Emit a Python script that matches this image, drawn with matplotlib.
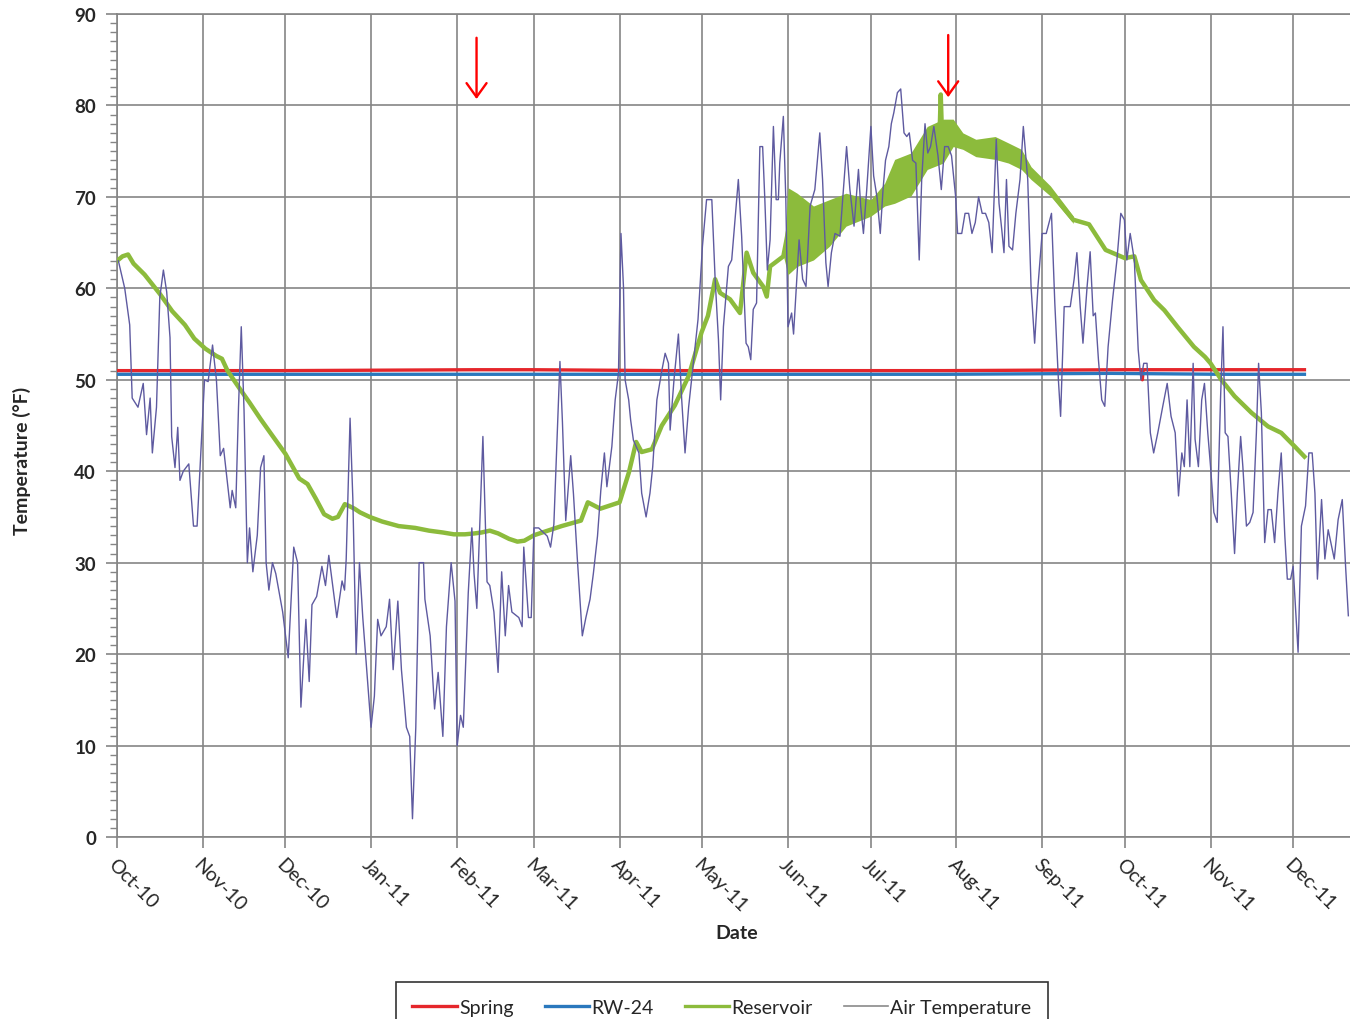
import numpy as np
import matplotlib.pyplot as plt
import matplotlib.dates as mdates
from matplotlib.lines import Line2D
from matplotlib.ticker import MultipleLocator

plt.rcParams['font.family'] = ['Lato', 'DejaVu Sans']

# days are counted from 1 Oct 2010
START = np.datetime64('2010-10-01T00:00')

# ── spring / RW-24 (nearly constant) ─────────────────────────────────────────
spring_day = [0, 60, 130, 150, 200, 300, 365, 371.0, 371.3, 371.6, 430]
spring_temp = [51.0, 51.0, 51.1, 51.1, 51.0, 51.0, 51.1, 51.1, 50.0, 51.1, 51.1]

rw24_day = [0, 100, 200, 300, 360, 400, 430]
rw24_temp = [50.6, 50.6, 50.6, 50.6, 50.7, 50.6, 50.6]

# ── reservoir ────────────────────────────────────────────────────────────────
res_day = [0, 2, 4, 6, 10, 15.5, 20, 24.6, 28, 32, 36, 38, 40, 44.5, 48, 52,
           56, 61, 66, 69, 72, 75, 78, 80, 82.5, 84, 86, 88, 91.5, 96, 102,
           108, 113, 118, 122, 126, 129.5, 132, 135, 138, 142, 145, 147.5, 151,
           156, 161, 168, 170.5, 175, 182, 185.4, 188, 190, 193.7, 197.3, 202,
           207, 211.7, 214, 216.6, 218.4, 222, 225.6, 228, 230.4, 234, 235.3,
           236.5, 241.3, 243, 246.3, 252.2, 258, 264, 273, 278, 281.6, 287.5,
           293.4, 297.8, 298.3, 298.8, 302.8, 306.3, 311, 318, 322.8, 327.5,
           331, 338, 346.3, 352, 358, 365, 368.4, 370.8, 375.6, 379.3, 384,
           390, 394, 396, 399.9, 404.7, 410.8, 416.8, 421.6, 426.5, 430]
res_temp = [63.0, 63.5, 63.7, 62.7, 61.5, 59.4, 57.5, 56.0, 54.5, 53.4, 52.6,
            52.3, 51.0, 49.0, 47.5, 45.7, 44.0, 41.9, 39.2, 38.6, 37.0, 35.3,
            34.8, 35.0, 36.4, 36.2, 35.9, 35.5, 35.0, 34.5, 34.0, 33.8, 33.5,
            33.3, 33.1, 33.1, 33.2, 33.3, 33.5, 33.2, 32.6, 32.3, 32.4, 33.0,
            33.5, 34.0, 34.6, 36.6, 35.9, 36.6, 39.9, 43.2, 42.1, 42.4, 45.0,
            47.2, 50.4, 55.2, 57.0, 61.0, 59.5, 58.8, 57.3, 63.9, 61.7, 60.2,
            59.1, 62.4, 63.5, 66.2, 66.4, 66.0, 67.1, 68.6, 68.8, 70.2, 71.7,
            72.4, 75.3, 76.2, 81.2, 76.3, 77.0, 76.1, 75.3, 75.3, 74.8, 74.1,
            72.6, 70.6, 67.5, 67.0, 64.2, 63.3, 63.5, 60.9, 58.7, 57.6, 55.8,
            53.6, 52.5, 51.8, 50.0, 48.2, 46.4, 44.9, 44.2, 42.7, 41.6]

# summer hourly spread of the reservoir record
band_day = [241.5, 243, 246.3, 252.2, 258, 264, 273, 278, 281.6, 287.5, 293.4,
            299.2, 302.8, 306.3, 311, 318, 322.8, 327.5, 331, 338, 346.3]
band_lo = [63.3, 61.5, 62.4, 63.1, 64.6, 66.8, 67.9, 69.0, 69.3, 70.1, 73.0,
           73.7, 75.5, 75.2, 74.4, 74.1, 73.7, 73.0, 71.9, 70.1, 67.1]
band_hi = [63.7, 71.0, 70.4, 69.0, 69.7, 70.4, 69.7, 71.5, 74.1, 74.8, 77.7,
           78.5, 78.5, 77.0, 76.3, 76.6, 75.9, 75.2, 73.3, 71.2, 67.9]

# ── air temperature (daily) ──────────────────────────────────────────────────
air_day = [
    0.5, 2.8, 4.6, 5.5, 7.6, 9.5, 10.7, 12, 12.8, 14.3, 15.5, 16.8, 18, 19.2,
    19.8, 21, 22, 22.8, 24, 26, 27.7, 29, 30.7, 31.7, 33, 34.6, 36, 37.4, 38.6,
    41, 41.7, 43, 44, 45, 46, 47.2, 48, 49.2, 50.8, 52, 53.2, 54, 55, 56.3,
    57.5, 60, 62, 64, 65.4, 66.6, 68.4, 69.6, 70.6, 72.3, 74.2, 75.5, 76.7,
    79.6, 81.5, 82.4, 83, 84.4, 85.4, 86.6, 87.8,
    89, 92, 93.2, 94.4, 95.6, 97.5, 98.7, 100, 101.7, 103, 104.8, 106, 107,
    108.2, 109.4, 111, 111.5, 113.4, 115, 116.3, 118, 119.3, 121, 122.4, 123.2,
    124.4, 125.4, 127.2, 128.5, 129.3, 130.3, 132.5, 134, 135, 136.5, 138,
    139.3, 140.6, 141.8, 143, 145.5, 146.7, 147.3, 149, 150, 151, 152.7, 155.8,
    157, 158.2, 159.4, 160.4, 161.3, 162.5, 164.3, 165.3, 166.7, 168.5, 169.8,
    171.3, 172.5, 174, 175.2,
    176.5, 177.4, 179.2, 180.4, 181.6, 182.5, 183.4, 184, 185.3, 186, 187, 189,
    190, 191.6, 193, 194, 195.5, 197.3, 198.5, 199.7, 200.3, 201.7, 203.3,
    204.5, 205.7, 207, 208.7, 210.4, 212, 213.5, 215.4, 216.6, 217.8, 218.6,
    219.6, 221.4, 222.6, 223.8, 225, 226.2, 227.8, 228.6, 229.5, 230.4, 231.6,
    232.8, 233.8, 234.6, 235.5, 236.5, 237.7, 238.7, 239.5, 240, 241.3, 242.2,
    243, 244.3, 245, 246, 247, 248.3, 249.5, 251, 252.7, 254.5, 255.5, 256.7,
    257.5, 258.7, 260, 261.8,
    264.2, 265.4, 266.9, 268.5, 269.3, 270.3, 271.5, 273, 274, 275.2, 276.4,
    277.4, 278.3, 279.5, 280.4, 281.3, 282.6, 283.8, 285, 286, 286.9, 288.1,
    289.3, 290.5, 291.4, 292.6, 293.6, 294.6, 295.8, 297.3, 298.5, 299.7, 301,
    302.2, 303.7, 304.4, 305.9, 307.1, 308.4, 309.6, 310.8, 312, 313.3, 314.5,
    315.7, 316.9, 318.4, 319.4, 320.4, 321.2, 322.1, 323, 324.3, 325.5, 327,
    328.2, 329.8, 331, 332.3, 333.5, 335, 336.5, 338.4, 339.6, 340.9, 341.7,
    343, 345.2, 346.6, 347.6, 348.8, 349.8, 351.3,
    352.4, 353.5, 354.3, 355.4, 356.6, 357.7, 358.9, 360.5, 362.1, 363.5,
    364.8, 365.7, 366.9, 368.4, 369.8, 370.8, 371.8, 373, 374.2, 375.4, 376.9,
    378.7, 380.3, 381.7, 383.2, 384.4, 385.6, 386.5, 387.5, 388.5, 389.7,
    390.4, 391.6, 392.8, 393.8, 395, 396, 397.2, 398.4, 399.6, 400.5, 401.3,
    402.3, 403.5, 404.7, 405.7, 406.9, 407.7, 409, 410.2, 411.4, 412.6, 413.4,
    414.4, 415.6, 416.8, 418, 419.2, 420.4, 421.6, 422.9, 423.8, 425, 425.9,
    427.7, 428.9, 430.4, 431.6, 432.8, 433.8, 434.7, 436.2, 437.4, 438.6,
    440.8, 442.2, 443.7, 444.9, 445.9]
air_temp = [
    63, 60, 56, 48, 47, 49.6, 44, 48, 42, 47, 59, 62, 59.6, 54.6,
    43.8, 40.4, 44.8, 39, 40, 40.8, 34, 34, 44, 50, 49.8, 53.8, 50, 41.7, 42.5,
    36, 37.9, 36, 47, 55.8, 46.7, 30, 33.8, 29, 33, 40.4, 41.7, 30, 27, 30,
    28.8, 24.6, 19.6, 31.7, 30, 14.2, 23.8, 17, 25.4, 26.3, 29.6, 27.5, 30.8,
    24, 28, 27, 30.4, 45.8, 37, 20, 30,
    24, 12, 15.4, 23.8, 22, 23, 26, 18.3, 25.8, 18.3, 12, 11, 2,
    12, 30, 30, 26, 22, 14, 18, 11, 23, 30, 25.8, 10,
    13.3, 12, 26.7, 33.8, 28.8, 25, 43.8, 27.9, 27.5, 24.6, 18,
    29, 22, 27.5, 24.6, 24, 23, 31.7, 24, 24, 33.8, 33.8, 32.9,
    31.7, 34.2, 44, 52, 45.4, 34.6, 41.7, 37.5, 30.4, 22, 24,
    26, 28.8, 32.9, 37.9,
    42, 38.3, 42.7, 47.8, 50.7, 66, 60.2, 50, 47.8, 45.6, 43.4, 42,
    37.6, 35, 37.6, 40.5, 47.8, 51, 52.9, 51.8, 44.5, 50, 55,
    47.8, 42, 47, 51.8, 56.6, 64.6, 69.7, 69.7, 61, 54.4, 47.8,
    55.8, 62.4, 63.1, 67.5, 71.9, 65.7, 54, 53.6, 52.2, 57.7, 58.4,
    75.5, 75.5, 69.7, 62, 65.3, 77.7, 69.7, 69.7, 73.7, 78.8, 69.7,
    55.8, 57.3, 55, 60.2, 65.3, 61, 60.2, 69, 70.8, 77, 71.9, 62.8,
    60.2, 63.9, 66, 65.7,
    75.5, 70.8, 66.8, 73, 69, 66, 70.8, 77.7, 72.3, 70, 66,
    70.8, 74, 75.5, 78, 79.2, 81.4, 81.8, 77, 76.6, 77, 74,
    73.7, 63.1, 71.9, 78, 74.8, 75.5, 77.7, 74.5, 70.8, 75.5, 75.5,
    74.5, 70, 66, 66, 68.2, 68.2, 66, 67.2, 70, 68.2, 68.2,
    67.2, 63.9, 76.3, 69.3, 66.4, 63.9, 71.9, 64.6, 64.2, 68.2, 71.9,
    77.7, 71.9, 60.2, 54, 60.2, 66, 66, 68.2, 58.4, 50, 46,
    58, 58, 61, 63.9, 58, 54, 60.2,
    64, 57, 57.3, 52.2, 47.8, 47.1, 53.6, 58.7, 63.1, 68.2,
    67.5, 63.1, 66, 63.1, 53.3, 50, 51.8, 51.8, 44.2, 42, 44.2,
    47.1, 49.6, 46, 44.2, 37.3, 42, 40.5, 47.8, 40.5, 51.8,
    43.5, 40.5, 47.8, 49.6, 44.2, 40.5, 35.5, 34.4, 47.8, 55.8, 44.2,
    43.8, 37.6, 31, 37.6, 43.8, 40.5, 34, 34.4, 35.5, 44.2, 51.8,
    46.4, 32.2, 35.8, 35.8, 32.2, 37.6, 42, 32.9, 28.2, 28.2, 29.6,
    20.2, 34, 36.2, 42, 42, 37.6, 28.2, 36.9, 30.4, 33.6,
    30.4, 34.7, 36.9, 29.6, 24.2]

# red arrow markers: (day, top, tip)
arrow_day = [130.2, 301.0]
arrow_top = [87.4, 87.7]
arrow_tip = [80.7, 80.9]

RED = '#e5262b'
BLUE = '#2a78bd'
GREEN = '#8cbb3c'
AIR = '#5e5aa0'
GRID = '#858585'
TEXT = '#262626'


def to_dates(days):
    return START + np.round(np.asarray(days, float) * 1440).astype('timedelta64[m]')


fig = plt.figure(figsize=(13.5, 10.2), dpi=100)
ax = fig.add_axes([117 / 1350, 1 - 838 / 1020, 1 - 117 / 1350, 823 / 1020])

ax.plot(to_dates(spring_day), spring_temp, color=RED, lw=2.4, zorder=3)
ax.plot(to_dates(rw24_day), rw24_temp, color=BLUE, lw=2.4, zorder=3)
ax.fill_between(to_dates(band_day), band_lo, band_hi, color=GREEN, lw=0, zorder=4)
ax.plot(to_dates(res_day), res_temp, color=GREEN, lw=3.2, zorder=4)
ax.plot(to_dates(air_day), air_temp, color=AIR, lw=1.0, zorder=5)

for d, top, tip in zip(arrow_day, arrow_top, arrow_tip):
    x = to_dates([d])[0]
    ax.annotate('', xy=(x, tip), xytext=(x, top),
                arrowprops=dict(arrowstyle='->,head_length=0.5,head_width=0.36',
                                color='red', lw=1.7, mutation_scale=20,
                                shrinkA=0, shrinkB=0),
                zorder=6)

# axes limits and ticks
ax.set_xlim(to_dates([0])[0], to_dates([446.5])[0])
ax.set_ylim(0, 90)
ax.xaxis.set_major_locator(mdates.MonthLocator())
ax.xaxis.set_major_formatter(mdates.DateFormatter('%b-%y'))
ax.yaxis.set_major_locator(MultipleLocator(10))
ax.yaxis.set_minor_locator(MultipleLocator(1))

ax.grid(True, which='major', color=GRID, lw=1.2)
ax.set_axisbelow(True)
for side in ('left', 'bottom', 'top'):
    ax.spines[side].set_color(GRID)
    ax.spines[side].set_linewidth(1.2)
ax.spines['right'].set_visible(False)

ax.tick_params(axis='x', direction='out', length=8, width=1.2, color=GRID,
               labelsize=14, labelcolor=TEXT, pad=5, labelrotation=-45)
ax.tick_params(axis='y', which='major', direction='out', length=8, width=1.2,
               color=GRID, labelsize=13.5, labelcolor=TEXT, pad=7)
ax.tick_params(axis='y', which='minor', direction='out', length=5, width=1.0,
               color=GRID)
plt.setp(ax.get_xticklabels(), ha='left', va='top', rotation_mode='anchor')
plt.setp(ax.get_yticklabels(), fontweight='bold')

fig.text(737 / 1350, 1 - 934 / 1020, 'Date', ha='center', va='center',
         fontsize=14, fontweight='bold', color=TEXT)
fig.text(22 / 1350, 1 - 461 / 1020, 'Temperature (°F)', rotation=90,
         ha='center', va='center', fontsize=14, fontweight='bold', color=TEXT)

handles = [Line2D([], [], color=RED, lw=2.4),
           Line2D([], [], color=BLUE, lw=2.4),
           Line2D([], [], color=GREEN, lw=2.4),
           Line2D([], [], color='#8a8a8a', lw=1.2)]
labels = ['Spring', 'RW-24', 'Reservoir', 'Air Temperature']
leg = fig.legend(handles, labels, loc='upper center',
                 bbox_to_anchor=(722 / 1350, 1 - 983 / 1020), ncol=4,
                 frameon=True, fancybox=False, edgecolor='black', fontsize=14,
                 handlelength=2.3, handletextpad=0.1, columnspacing=1.6,
                 borderpad=0.85, borderaxespad=0, labelcolor=TEXT)
leg.get_frame().set_linewidth(1.2)

fig.savefig('out.png', dpi=100)
